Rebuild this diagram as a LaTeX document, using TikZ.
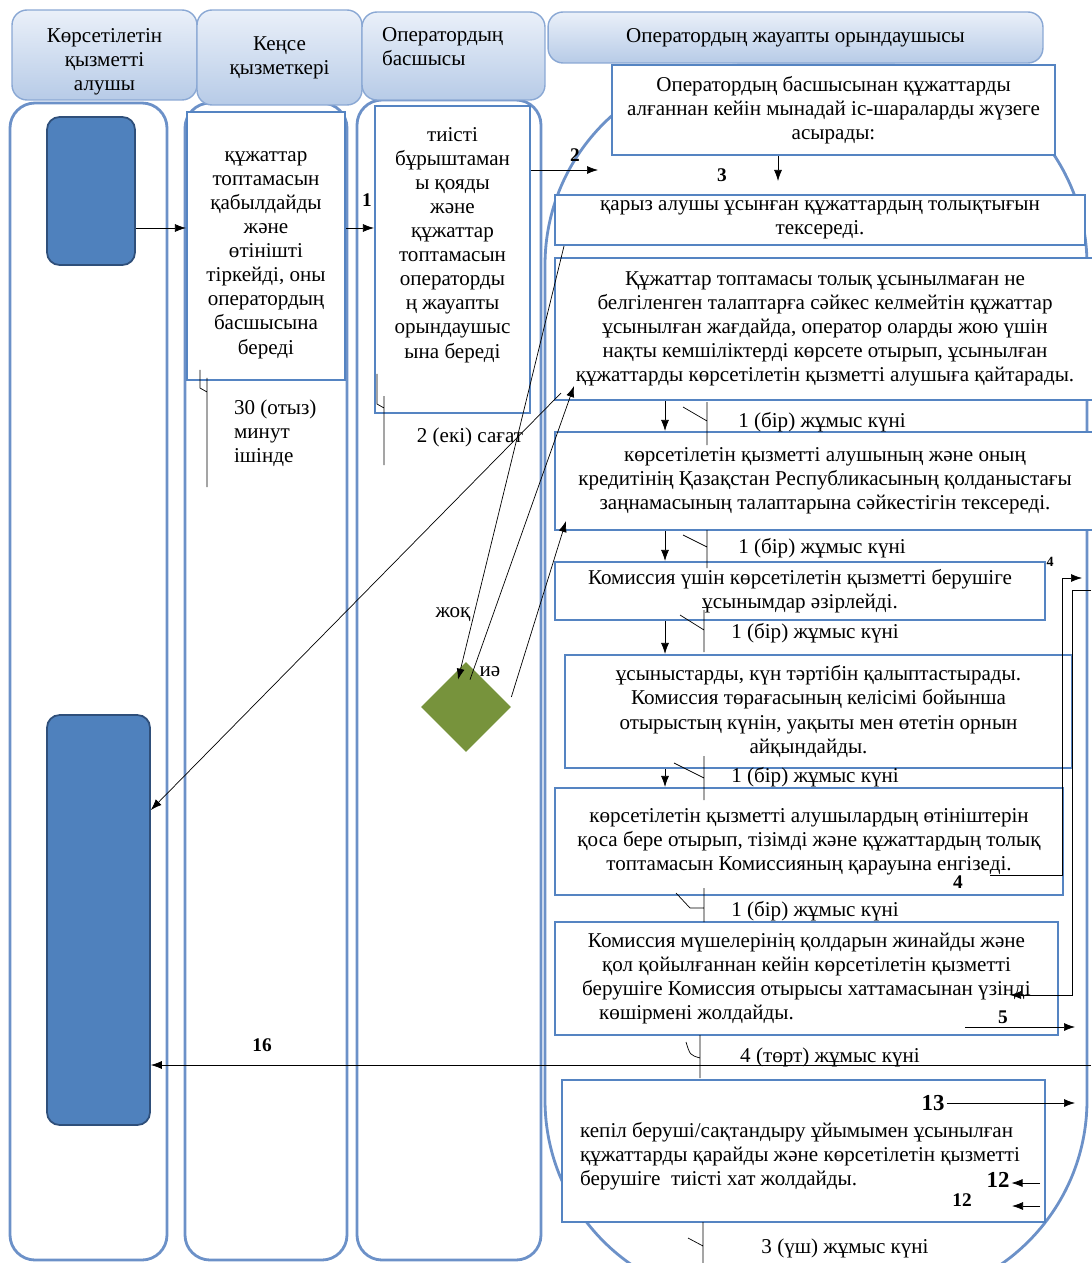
\documentclass[tikz,border=0pt]{standalone}
\usepackage{fontspec}
\setmainfont{Liberation Serif}
\usetikzlibrary{shapes.geometric,arrows.meta}
\definecolor{laneblue}{HTML}{6C91C8}
\definecolor{boxblue}{HTML}{5584C2}
\definecolor{fillblue}{HTML}{4F81BD}
\definecolor{darkblue}{HTML}{2F4F7A}
\definecolor{headtop}{HTML}{EAF0F9}
\definecolor{headbot}{HTML}{B7CBE7}
\definecolor{headline}{HTML}{8AA8D4}
\definecolor{olive}{HTML}{77933C}

\begin{document}
\begin{tikzpicture}[
    x=0.02cm, y=-0.02cm,
    txt/.style={font=\fontsize{12}{13.7}\selectfont, align=center, inner sep=1pt},
    header/.style={rectangle, rounded corners=0.3cm, draw=headline, thick, top color=headtop, bottom color=headbot, txt},
    lane/.style={draw=laneblue, line width=1.6pt, rounded corners=0.5cm},
    stepbox/.style={rectangle, draw=boxblue, line width=1.2pt, fill=white, txt},
    endbox/.style={rectangle, rounded corners=0.25cm, draw=darkblue, line width=1pt, fill=fillblue},
    arr/.style={-{Latex[length=2.2mm,width=1.6mm]}, thin},
    num/.style={font=\bfseries\fontsize{11}{12}\selectfont, inner sep=1pt},
    tick/.style={thin}
]
\useasboundingbox (0,0) rectangle (1091,1263);

% Lanes
\draw[lane] (10,103) rectangle (167,1260);
\draw[lane] (185,103) rectangle (347,1260);
\draw[lane] (357,100) rectangle (541,1260);
\draw[lane, rounded corners=4cm] (545,65) rectangle (1087,1300);

% Lane headers
\node[header, minimum width=3.7cm, minimum height=1.8cm] (h1) at (104.5,55) {};
\node[txt] (h1t) at (104.5,62) {Көрсетілетін\\қызметті\\алушы};
\node[header, minimum width=3.3cm, minimum height=1.9cm] (h2) at (279.5,57.5) {Кеңсе\\қызметкері};
\node[header, minimum width=3.66cm, minimum height=1.76cm] (h3) at (453.5,56) {};
\node[txt, align=left, anchor=north west] (h3t) at (380,25) {Оператордың\\басшысы};
\node[header, minimum width=9.9cm, minimum height=1.02cm] (h4) at (795.5,37.5) {Оператордың жауапты орындаушысы};

% Service recipient
\node[endbox, minimum width=1.76cm, minimum height=2.96cm] (s) at (91,191) {};
\node[endbox, minimum width=2.06cm, minimum height=8.2cm] (e) at (98.5,920) {};

% Office and head of operator
\node[stepbox, minimum width=3.16cm, minimum height=5.36cm] (k) at (266,246) {};
\node[txt] (kt) at (266,255) {құжаттар\\топтамасын\\қабылдайды\\және\\өтінішті\\тіркейді, оны\\оператордың\\басшысына\\береді};
\node[stepbox, minimum width=3.1cm, minimum height=6.14cm] (o) at (452.5,259.5) {};
\node[txt] (ot) at (452.5,245) {тиісті\\бұрыштаман\\ы қояды\\және\\құжаттар\\топтамасын\\операторды\\ң жауапты\\орындаушыс\\ына береді};
\node[txt, align=left, anchor=north west] (m30) at (232,398) {30 (отыз)\\минут\\ішінде};
\node[txt] (m2) at (470,437) {2 (екі) сағат};
\draw[tick] (200,370) -- (200,388) -- (207,392) (207,378) -- (207,487);
\draw[tick] (377,374) -- (377,404) -- (384,408) (384,396) -- (384,465);

% Responsible executor
\node[stepbox, minimum width=8.86cm, minimum height=1.8cm] (b1) at (833.5,110) {Оператордың басшысынан құжаттарды\\алғаннан кейін мынадай іс-шараларды жүзеге\\асырады:};
\node[stepbox, minimum width=10.6cm, minimum height=1.0cm] (b2) at (820,220) {қарыз алушы ұсынған құжаттардың толықтығын\\тексереді.};
\node[stepbox, minimum width=10.8cm, minimum height=2.84cm] (b3) at (825,329) {Құжаттар топтамасы толық ұсынылмаған не\\белгіленген талаптарға сәйкес келмейтін құжаттар\\ұсынылған жағдайда, оператор оларды жою үшін\\нақты кемшіліктерді көрсете отырып, ұсынылған\\құжаттарды көрсетілетін қызметті алушыға қайтарады.};
\node[stepbox, minimum width=10.8cm, minimum height=1.96cm] (b4) at (825,481) {көрсетілетін қызметті алушының және оның\\кредитінің Қазақстан Республикасының қолданыстағы\\заңнамасының талаптарына сәйкестігін тексереді.};
\node[stepbox, minimum width=9.8cm, minimum height=1.16cm] (b5) at (800,591) {Комиссия үшін көрсетілетін қызметті берушіге\\ұсынымдар әзірлейді.};
\node[stepbox, minimum width=10.14cm, minimum height=2.26cm] (b6) at (818.5,711.5) {ұсыныстарды, күн тәртібін қалыптастырады.\\Комиссия төрағасының келісімі бойынша\\отырыстың күнін, уақыты мен өтетін орнын\\айқындайды.\hspace*{0.4cm}};
\node[stepbox, minimum width=10.16cm, minimum height=2.14cm] (b7) at (809,841.5) {көрсетілетін қызметті алушылардың өтініштерін\\қоса бере отырып, тізімді және құжаттардың толық\\топтамасын Комиссияның қарауына енгізеді.};
\node[stepbox, minimum width=10.06cm, minimum height=2.26cm] (b8) at (806.5,978.5) {Комиссия мүшелерінің қолдарын жинайды және\\қол қойылғаннан кейін көрсетілетін қызметті\\берушіге Комиссия отырысы хаттамасынан үзінді\\көшірмені жолдайды.\hspace*{4.4cm}};
\node[stepbox, minimum width=9.66cm, minimum height=2.84cm] (b9) at (803.5,1151) {};
\node[txt, align=left, anchor=west] (b9t) at (578,1156) {кепіл беруші/сақтандыру ұйымымен ұсынылған\\құжаттарды қарайды және көрсетілетін қызметті\\берушіге \ тиісті хат жолдайды.};

% Durations
\node[txt] (t1) at (822,422) {1 (бір) жұмыс күні};
\node[txt] (t2) at (822,548) {1 (бір) жұмыс күні};
\node[txt] (t3) at (815,633) {1 (бір) жұмыс күні};
\node[txt] (t4) at (815,777) {1 (бір) жұмыс күні};
\node[txt] (t5) at (815,911) {1 (бір) жұмыс күні};
\node[txt] (t6) at (830,1057) {4 (төрт) жұмыс күні};
\node[txt] (t7) at (845,1248) {3 (үш) жұмыс күні};
\draw[tick] (683,407) -- (707,421) (707,402) -- (707,445);
\draw[tick] (683,535) -- (707,547) (707,530) -- (707,568);
\draw[tick] (680,615) -- (704,630) (704,610) -- (704,652);
\draw[tick] (674,763) -- (704,778) (704,756) -- (704,800);
\draw[tick] (676,893) -- (690,908) -- (704,908) (704,888) -- (704,922);
\draw[tick] (686,1042) .. controls (690,1055) .. (700,1058) (700,1035) -- (700,1078);
\draw[tick] (688,1238) -- (703,1246) (703,1222) -- (703,1263);

% Decision
\node[diamond, fill=olive, minimum width=1.8cm, minimum height=1.8cm, inner sep=0pt] (d) at (466,707) {};
\node[txt] (no) at (453,615) {жоқ};
\node[txt] (yes) at (490,672) {иә};

% Flow
\coordinate (r1) at (0,228);
\coordinate (a2) at (598,170);
\coordinate (a3) at (778,181);
\coordinate (xa) at (665,0);
\draw[arr] (s.east |- r1) -- (k.west |- r1);
\draw[arr] (k.east |- r1) -- (o.west |- r1);
\draw[arr] (o.east |- a2) -- (a2);
\draw[arr] (a3 |- b1.south) -- (a3);
\draw[arr] (b3.south -| xa) -- (b4.north -| xa);
\draw[arr] (b4.south -| xa) -- (b5.north -| xa);
\draw[arr] (b5.south -| xa) -- (b6.north -| xa);
\draw[arr] (b6.south -| xa) -- (b7.north -| xa);
\node[num] at (367,200) {1};
\node[num] at (575,155) {2};
\node[num] at (722,175) {3};

\draw[arr] ([xshift=0.2cm]b2.south west) -- ([xshift=-0.16cm,yshift=-0.36cm]d.north);
\draw[arr] ([xshift=0.08cm,yshift=-0.36cm]d.north) -- ([xshift=0.4cm,yshift=0.3cm]b3.south west);
\draw[arr] ([xshift=0.14cm,yshift=0.16cm]b3.south west) -- ([yshift=2.2cm]e.east);
\draw[arr] ([yshift=0.2cm]d.east) -- ([xshift=0.24cm,yshift=0.2cm]b4.south west);

% Right side links
\coordinate (p4a) at (990,875);
\coordinate (p4b) at (1082,578);
\coordinate (p5a) at (1091,590);
\coordinate (p5b) at (1010,995);
\draw[arr] (p4a) -| (1062,578) -- (p4b);
\draw[arr] (p5a) -- (1072,590) |- (p5b);
\node[num] at (958,882) {4};
\node[num, font=\bfseries\fontsize{8}{9}\selectfont] at (1050,562) {4};
\coordinate (q5a) at (965,1027);
\coordinate (q5b) at (1075,1027);
\draw[arr] (q5a) -- (q5b);
\node[num] at (1003,1017) {5};
\node[num, font=\bfseries\fontsize{13}{14}\selectfont] (n13) at (933,1103) {13};
\coordinate (q13) at (1075,1103);
\draw[arr] (n13.east) -- (q13);
\node[num, font=\bfseries\fontsize{13}{14}\selectfont] (n12a) at (998,1180) {12};
\coordinate (q12a) at (1040,1183);
\draw[arr] (q12a) -- (n12a.east |- q12a);
\node[num] (n12b) at (962,1200) {12};
\coordinate (q12b) at (1040,1206);
\coordinate (q12c) at (1012,1206);
\draw[arr] (q12b) -- (q12c);

% Return to recipient
\coordinate (r16) at (1091,1065);
\draw[arr] (r16) -- (r16 -| e.east);
\node[num] at (262,1045) {16};

\end{tikzpicture}
\end{document}
